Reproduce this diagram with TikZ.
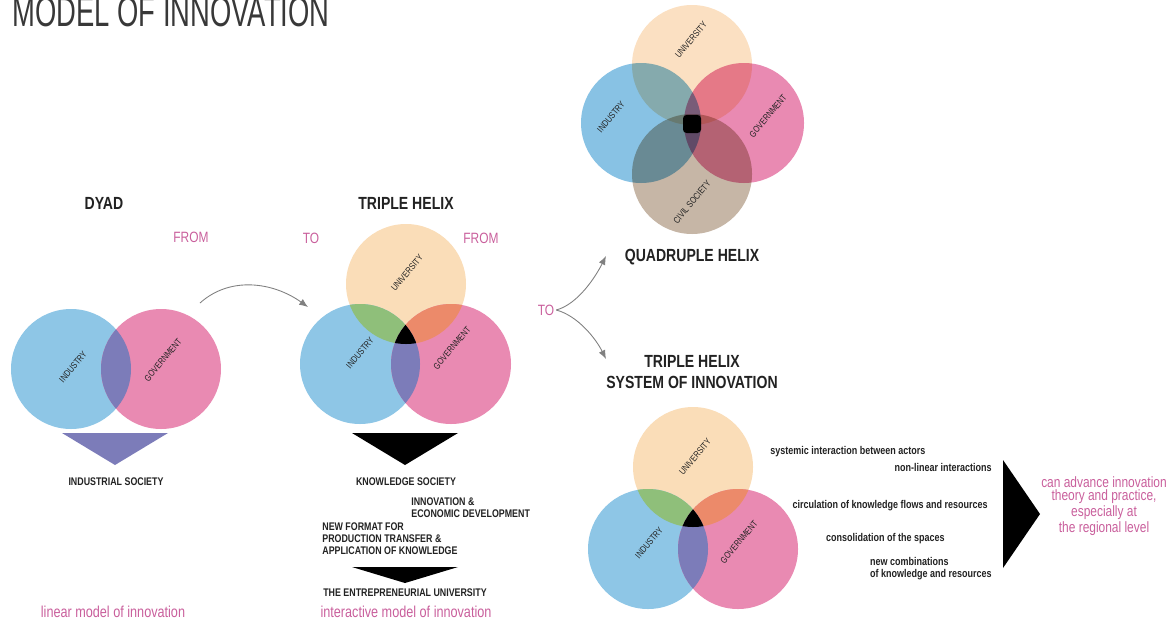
\documentclass[tikz,border=0pt]{standalone}
\usepackage{fontspec}
\setmainfont{Liberation Sans}
\newfontfamily\narrowfont[FakeStretch=0.8]{Liberation Sans}
\newfontfamily\titlefont[FakeStretch=0.65]{Liberation Sans}
\usepackage{tikz}
\usetikzlibrary{arrows.meta,positioning}

\definecolor{helixblue}{HTML}{8EC6E6}
\definecolor{helixpink}{HTML}{E98AB2}
\definecolor{helixpeach}{HTML}{FADDB8}
\definecolor{helixgreen}{HTML}{8FBF7A}
\definecolor{helixorange}{HTML}{EC8A6A}
\definecolor{helixpurple}{HTML}{7C7CB9}
\definecolor{helixtan}{HTML}{C6B6A6}
\definecolor{quadblue}{HTML}{88C2E4}
\definecolor{quadpeach}{HTML}{FBE0C2}
\definecolor{textpink}{HTML}{C95F9C}
\definecolor{textdark}{HTML}{222222}

\begin{document}
\begin{tikzpicture}[x=0.02cm, y=-0.02cm,
    heading/.style={font=\narrowfont\bfseries\fontsize{10}{11.5}\selectfont, text=textdark, inner sep=0, align=center},
    caption/.style={font=\narrowfont\bfseries\fontsize{6.3}{6.8}\selectfont, text=textdark, inner sep=0, align=left},
    pinklabel/.style={font=\narrowfont\fontsize{8.5}{7.4}\selectfont, text=textpink, inner sep=0, align=center},
    circlabel/.style={font=\narrowfont\fontsize{5.2}{5.2}\selectfont, text=textdark, rotate=50, inner sep=0},
    note/.style={font=\narrowfont\bfseries\fontsize{6.4}{6.8}\selectfont, text=textdark, inner sep=0, align=left},
    connector/.style={draw=gray, line width=0.5pt, -{Latex[length=5pt,width=4pt]}}]
    \useasboundingbox (0,0) rectangle (1175,619);

    % Title
    \node[anchor=base west, font=\titlefont\fontsize{24}{24}\selectfont, text=textdark!90, inner sep=0] (title) at (12,26) {MODEL OF INNOVATION};

    % Dyad
    \fill[helixblue] (71,369) circle (60);
    \fill[helixpink] (161,369) circle (60);
    \begin{scope}
        \clip (71,369) circle (60);
        \fill[helixpurple] (161,369) circle (60);
    \end{scope}
    \fill[helixpurple] (62,433) -- (168,433) -- (115,465) -- cycle;
    \node[circlabel] (dyadind) at (73,367) {INDUSTRY};
    \node[circlabel] (dyadgov) at (163,360) {GOVERNMENT};

    % Triple helix (middle and bottom right)
    \foreach \ux/\uy/\ix/\iy/\gx/\gy in {406/284/360/364/451/364, 693/467/648/549/738/549} {
        \fill[helixpeach] (\ux,\uy) circle (60);
        \fill[helixblue] (\ix,\iy) circle (60);
        \fill[helixpink] (\gx,\gy) circle (60);
        \begin{scope}
            \clip (\ux,\uy) circle (60);
            \fill[helixgreen] (\ix,\iy) circle (60);
            \fill[helixorange] (\gx,\gy) circle (60);
        \end{scope}
        \begin{scope}
            \clip (\ix,\iy) circle (60);
            \fill[helixpurple] (\gx,\gy) circle (60);
            \clip (\gx,\gy) circle (60);
            \fill[black] (\ux,\uy) circle (60);
        \end{scope}
    }
    \node[circlabel] (thuni) at (407,273) {UNIVERSITY};
    \node[circlabel] (thind) at (360,353) {INDUSTRY};
    \node[circlabel] (thgov) at (452,348) {GOVERNMENT};
    \node[circlabel] (sysuni) at (695,457) {UNIVERSITY};
    \node[circlabel] (sysind) at (649,543) {INDUSTRY};
    \node[circlabel] (sysgov) at (739,542) {GOVERNMENT};

    % Quadruple helix
    \begin{scope}[blend group=multiply]
        \fill[quadpeach] (692,65) circle (60);
        \fill[quadblue] (641,123) circle (60);
        \fill[helixpink] (744,123) circle (60);
        \fill[helixtan] (692,174) circle (60);
    \end{scope}
    \fill[black, rounded corners=2pt] (683,115) rectangle (701,133);
    \node[circlabel] (quni) at (691,40) {UNIVERSITY};
    \node[circlabel] (qind) at (611,117) {INDUSTRY};
    \node[circlabel] (qgov) at (768,116) {GOVERNMENT};
    \node[circlabel] (qciv) at (692,202) {CIVIL SOCIETY};

    % Wedges
    \fill[black] (352,433) -- (458,433) -- (405,465) -- cycle;
    \fill[black] (352,567) -- (458,567) -- (405,583) -- cycle;
    \fill[black] (1003,460) -- (1003,568) -- (1040,514) -- cycle;

    % Headings
    \node[heading] (dyad) at (104,203) {DYAD};
    \node[heading] (triple) at (406,203) {TRIPLE HELIX};
    \node[heading] (quad) at (692,257) {QUADRUPLE HELIX};
    \node[heading] (system) at (692,372) {TRIPLE HELIX\\SYSTEM OF INNOVATION};

    % Pink labels
    \node[pinklabel] (from1) at (191,237) {FROM};
    \node[pinklabel] (to1) at (311,238) {TO};
    \node[pinklabel] (from2) at (481,238) {FROM};
    \node[pinklabel] (to2) at (546,310) {TO};
    \node[pinklabel, font=\narrowfont\fontsize{9}{9}\selectfont] (linear) at (113,612) {linear model of innovation};
    \node[pinklabel, font=\narrowfont\fontsize{9}{9}\selectfont] (interactive) at (406,612) {interactive model of innovation};
    \node[pinklabel] (advance) at (1104,506) {can advance innovation\\theory and practice,\\especially at\\the regional level};

    % Captions
    \node[caption] (industrial) at (116,482) {INDUSTRIAL SOCIETY};
    \node[caption] (knowledge) at (406,482) {KNOWLEDGE SOCIETY};
    \node[caption, anchor=west] (econ) at (411,508) {INNOVATION \&\\ECONOMIC DEVELOPMENT};
    \node[caption, anchor=west] (format) at (322,539) {NEW FORMAT FOR\\PRODUCTION TRANSFER \&\\APPLICATION OF KNOWLEDGE};
    \node[caption] (entre) at (405,593) {THE ENTREPRENEURIAL UNIVERSITY};

    % Notes on the system of innovation
    \node[note, anchor=west] (systemic) at (770,452) {systemic interaction between actors};
    \node[note, anchor=east] (nonlinear) at (992,467) {non-linear interactions};
    \node[note, anchor=east] (circulation) at (988,506) {circulation of knowledge flows and resources};
    \node[note, anchor=east] (spaces) at (945,539) {consolidation of the spaces};
    \node[note, anchor=east] (combos) at (992,569) {new combinations\\of knowledge and resources};

    % Connectors
    \coordinate (dyadout) at (200,303);
    \coordinate (thin) at (308,307);
    \coordinate (quadin) at (606,256);
    \coordinate (sysin) at (606,359);
    \draw[connector] (dyadout) .. controls +(30,-27) and +(-35,-25) .. (thin);
    \draw[connector] ([xshift=1pt]to2.east) .. controls +(22,-6) and +(-10,20) .. (quadin);
    \draw[connector] ([xshift=1pt]to2.east) .. controls +(22,6) and +(-10,-20) .. (sysin);
\end{tikzpicture}
\end{document}
